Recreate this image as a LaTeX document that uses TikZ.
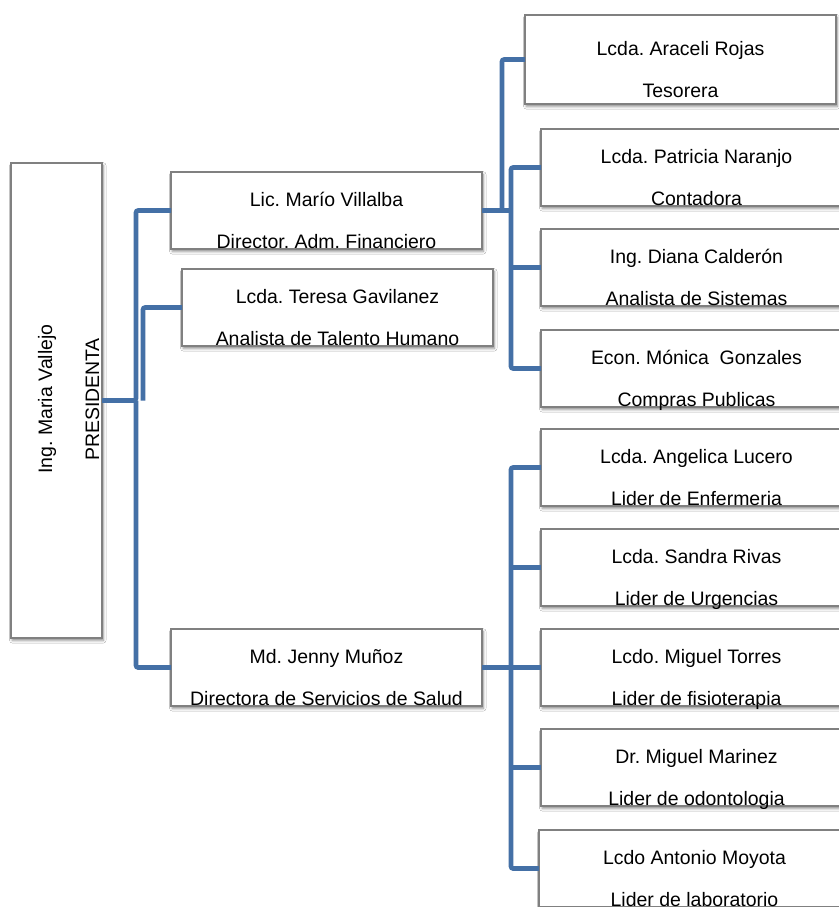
\documentclass[tikz,border=0pt]{standalone}
\usepackage{fontspec}
\setmainfont{Liberation Sans}
\usetikzlibrary{calc,shadows.blur}
\definecolor{connblue}{RGB}{68,112,166}
\definecolor{boxgray}{RGB}{128,128,128}
\frenchspacing
\begin{document}
\begin{tikzpicture}[x=0.75pt,y=-0.75pt,
  orgbox/.style={draw=boxgray,line width=0.9pt,fill=white,rectangle,inner sep=0pt,outer sep=0pt,
    anchor=north west,minimum width=233.25pt,minimum height=57.75pt,
    blur shadow={shadow xshift=1pt,shadow yshift=-1.8pt,shadow blur radius=2pt,shadow opacity=45}},
  txt/.style={anchor=base,inner sep=0pt,font=\fontsize{14.6pt}{17pt}\selectfont},
  conn/.style={draw=connblue,line width=3.4pt,rounded corners=1.5pt}]
\useasboundingbox (0,0) rectangle (839,907);
\clip (0,0) rectangle (839,907);
\fill[white] (0,0) rectangle (839,907);
% boxes
\node[orgbox,minimum width=68.25pt,minimum height=356.25pt] (pres) at (11,163) {};
\node[orgbox] (mario) at (171,172) {};
\node[orgbox] (teresa) at (182,269) {};
\node[orgbox] (jenny) at (171,629) {};
\node[orgbox,minimum height=66.75pt] (araceli) at (525,15) {};
\node[orgbox] (patricia) at (541,129) {};
\node[orgbox] (diana) at (541,229) {};
\node[orgbox] (monica) at (541,330) {};
\node[orgbox] (angelica) at (541,429) {};
\node[orgbox] (sandra) at (541,529) {};
\node[orgbox] (torres) at (541,629) {};
\node[orgbox] (marinez) at (541,729) {};
\node[orgbox] (antonio) at (539,830) {};
% texts
\node[txt,rotate=90] (presa) at (52,399) {Ing. Maria Vallejo};
\node[txt,rotate=90] (presb) at (99,399.5) {PRESIDENTA};
\newcommand\boxtext[3]{%
  \node[txt] (#1a) at ($(#1.north)+(0,34)$) {#2};
  \node[txt] (#1b) at ($(#1.north)+(0,76)$) {#3};}
\boxtext{mario}{Lic. Marío Villalba}{Director. Adm. Financiero}
\boxtext{teresa}{Lcda. Teresa Gavilanez}{Analista de Talento Humano}
\boxtext{jenny}{Md. Jenny Muñoz}{Directora de Servicios de Salud}
\node[txt] (araceliа) at ($(araceli.north)+(0,40)$) {Lcda. Araceli Rojas};
\node[txt] (aracelib) at ($(araceli.north)+(0,82)$) {Tesorera};
\boxtext{patricia}{Lcda. Patricia Naranjo}{Contadora}
\boxtext{diana}{Ing. Diana Calderón}{Analista de Sistemas}
\boxtext{monica}{Econ. Mónica~~Gonzales}{Compras Publicas}
\boxtext{angelica}{Lcda. Angelica Lucero}{Lider de Enfermeria}
\boxtext{sandra}{Lcda. Sandra Rivas}{Lider de Urgencias}
\boxtext{torres}{Lcdo. Miguel Torres}{Lider de fisioterapia}
\boxtext{marinez}{Dr. Miguel Marinez}{Lider de odontologia}
\boxtext{antonio}{Lcdo Antonio Moyota}{Lider de laboratorio}
% junction x positions
\coordinate (j1) at (136,0);
\coordinate (j2) at (143,0);
\coordinate (j3) at (502,0);
\coordinate (j4) at (511,0);
% connectors, left
\draw[conn] (mario.west) -| (j1 |- pres.east) -- (pres.east);
\draw[conn] (jenny.west) -| (j1 |- pres.east);
\draw[conn] (teresa.west) -| (j2 |- pres.east);
% connectors, upper right
\draw[conn] (araceli.west) -| (j3 |- mario.east) -- (mario.east);
\draw[conn] (mario.east) -- (j4 |- mario.east);
\draw[conn] (patricia.west) -| (j4 |- monica.west) -- (monica.west);
\draw[conn] (j4 |- diana.west) -- (diana.west);
% connectors, lower right
\draw[conn] (jenny.east) -- (j4 |- jenny.east);
\draw[conn] (angelica.west) -| (j4 |- antonio.west) -- (antonio.west);
\draw[conn] (j4 |- sandra.west) -- (sandra.west);
\draw[conn] (j4 |- torres.west) -- (torres.west);
\draw[conn] (j4 |- marinez.west) -- (marinez.west);
\end{tikzpicture}
\end{document}
